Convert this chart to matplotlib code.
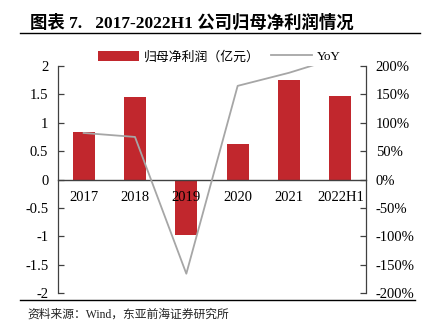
import numpy as np
import matplotlib.pyplot as plt
from matplotlib.patches import Patch
from matplotlib.lines import Line2D

plt.rcParams['font.family'] = ['Liberation Serif', 'Noto Sans CJK SC']

# 归母净利润（亿元）与同比增速
years = ['2017', '2018', '2019', '2020', '2021', '2022H1']
profit = [0.84, 1.46, -0.98, 0.62, 1.75, 1.47]
yoy = [82, 75, -166, 165, 188, 216]

left_ticks = [2, 1.5, 1, 0.5, 0, -0.5, -1, -1.5, -2]
right_ticks = [200, 150, 100, 50, 0, -50, -100, -150, -200]

bar_color = '#C1272D'
line_color = '#A6A6A6'

fig = plt.figure(figsize=(4.28, 3.31), dpi=100)
ax = fig.add_axes([0.1355, 0.1148, 0.7196, 0.6858])
x = np.arange(len(years))

ax.bar(x, profit, width=0.43, color=bar_color, zorder=2)
ax.set_axisbelow(False)
ax.set_xlim(-0.5, len(years) - 0.5)
ax.set_ylim(-2, 2)
ax.set_yticks(left_ticks)
ax.set_yticklabels([('%g' % t) for t in left_ticks])
ax.set_xticks(x)
ax.set_xticklabels(years)

for s in ['top', 'right']:
    ax.spines[s].set_visible(False)
ax.spines['bottom'].set_position(('data', 0))
ax.spines['bottom'].set_color('#404040')
ax.spines['bottom'].set_linewidth(1.0)
ax.spines['left'].set_color('#404040')
ax.spines['left'].set_linewidth(0.9)
ax.tick_params(axis='x', length=0, pad=8, labelsize=10.5)
ax.tick_params(axis='y', direction='in', length=4, width=0.9, color='#404040',
               pad=7, labelsize=10.5)

ax2 = ax.twinx()
ax2.plot(x, yoy, color=line_color, lw=1.3, zorder=3)
ax2.set_ylim(-200, 200)
ax2.set_yticks(right_ticks)
ax2.set_yticklabels(['%d%%' % t for t in right_ticks])
for s in ['top', 'left', 'bottom']:
    ax2.spines[s].set_visible(False)
ax2.spines['right'].set_color('#404040')
ax2.spines['right'].set_linewidth(0.9)
ax2.tick_params(axis='y', direction='in', length=4, width=0.9, color='#404040',
                pad=7, labelsize=10.5)

handles = [Patch(facecolor=bar_color, edgecolor='none'),
           Line2D([], [], color=line_color, lw=1.3)]
leg = fig.legend(handles, ['归母净利润（亿元）', 'YoY'], ncol=2, loc='center',
                 bbox_to_anchor=(0.512, 0.828), frameon=True, fontsize=9.3,
                 handlelength=3.2, handleheight=0.9, columnspacing=0.9,
                 handletextpad=0.35, borderpad=0.2)
leg.get_frame().set_facecolor('white')
leg.get_frame().set_edgecolor('none')
leg.set_zorder(5)

# 标题与分隔线
fig.text(0.07, 0.93, '图表 7.   2017-2022H1 公司归母净利润情况',
         fontsize=12.5, fontweight='bold', va='center', ha='left')
fig.add_artist(Line2D([0.047, 0.982], [0.9, 0.9], color='black', lw=1.0))
fig.add_artist(Line2D([0.047, 0.97], [0.093, 0.093], color='black', lw=1.0))
fig.text(0.063, 0.05, '资料来源：Wind，东亚前海证券研究所', fontsize=8.5,
         va='center', ha='left', color='#222222')

fig.savefig('out.png', dpi=100)
